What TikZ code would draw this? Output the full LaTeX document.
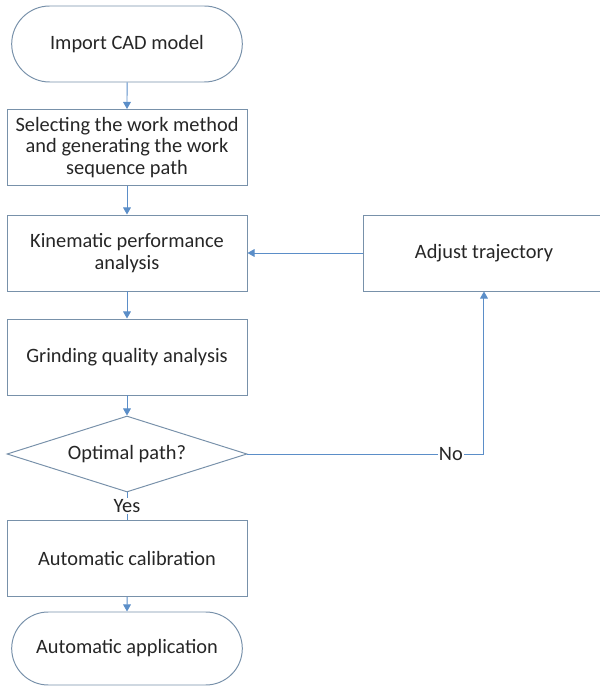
\documentclass[tikz,border=0pt]{standalone}
\usepackage{fontspec}
\setmainfont{Carlito}
\usetikzlibrary{positioning}
\usetikzlibrary{shapes.misc, shapes.geometric}
\usetikzlibrary{arrows.meta}
\definecolor{flowline}{RGB}{91,142,200}
\definecolor{flowedge}{RGB}{120,145,170}

\begin{document}
\begin{tikzpicture}[
  every node/.style={font=\fontsize{14.5}{15.5}\selectfont, text=black!85},
  stepbox/.style={rectangle, draw=flowedge, line width=0.7pt, minimum width=6cm, minimum height=1.9cm, align=center},
  endbox/.style={rounded rectangle, draw=flowedge, line width=0.7pt, minimum width=6cm, minimum height=1.9cm},
  testbox/.style={diamond, draw=flowedge, line width=0.7pt, minimum width=6cm, minimum height=1.9cm, aspect=3},
  flow/.style={draw=flowline, line width=0.7pt, -{Triangle[width=5.5pt,length=5pt]}},
  tag/.style={fill=white, inner sep=1pt}
]
\useasboundingbox (0,0) rectangle (15,17.25);
\clip (0,0) rectangle (15,17.25);

% main column
\node[endbox] (cad) at (3.175,16.15) {Import CAD model};
\node[stepbox] (method) at (3.175,13.5625) {Selecting the work method\\and generating the work\\sequence path};
\node[stepbox] (kinematic) at (3.175,10.925) {Kinematic performance\\analysis};
\node[stepbox] (grinding) at (3.175,8.325) {Grinding quality analysis};
\node[testbox] (optimal) at (3.175,5.9) {Optimal path?};
\node[stepbox] (calib) at (3.175,3.2875) {Automatic calibration};
\node[endbox, minimum height=1.825cm] (apply) at (3.175,1.0375) {Automatic application};

% loop back
\node[stepbox, right=2.9cm of kinematic] (adjust) {Adjust trajectory};

\draw[flow] (cad) -- (method);
\draw[flow] (method) -- (kinematic);
\draw[flow] (kinematic) -- (grinding);
\draw[flow] (grinding) -- (optimal);
\draw[draw=flowline, line width=0.7pt] (optimal) -- node[tag] {Yes} (calib);
\draw[flow] (calib) -- (apply);
\draw[flow] (optimal.east) -| node[tag, pos=0.43] {No} (adjust.south);
\draw[flow] (adjust) -- (kinematic);

\end{tikzpicture}
\end{document}
